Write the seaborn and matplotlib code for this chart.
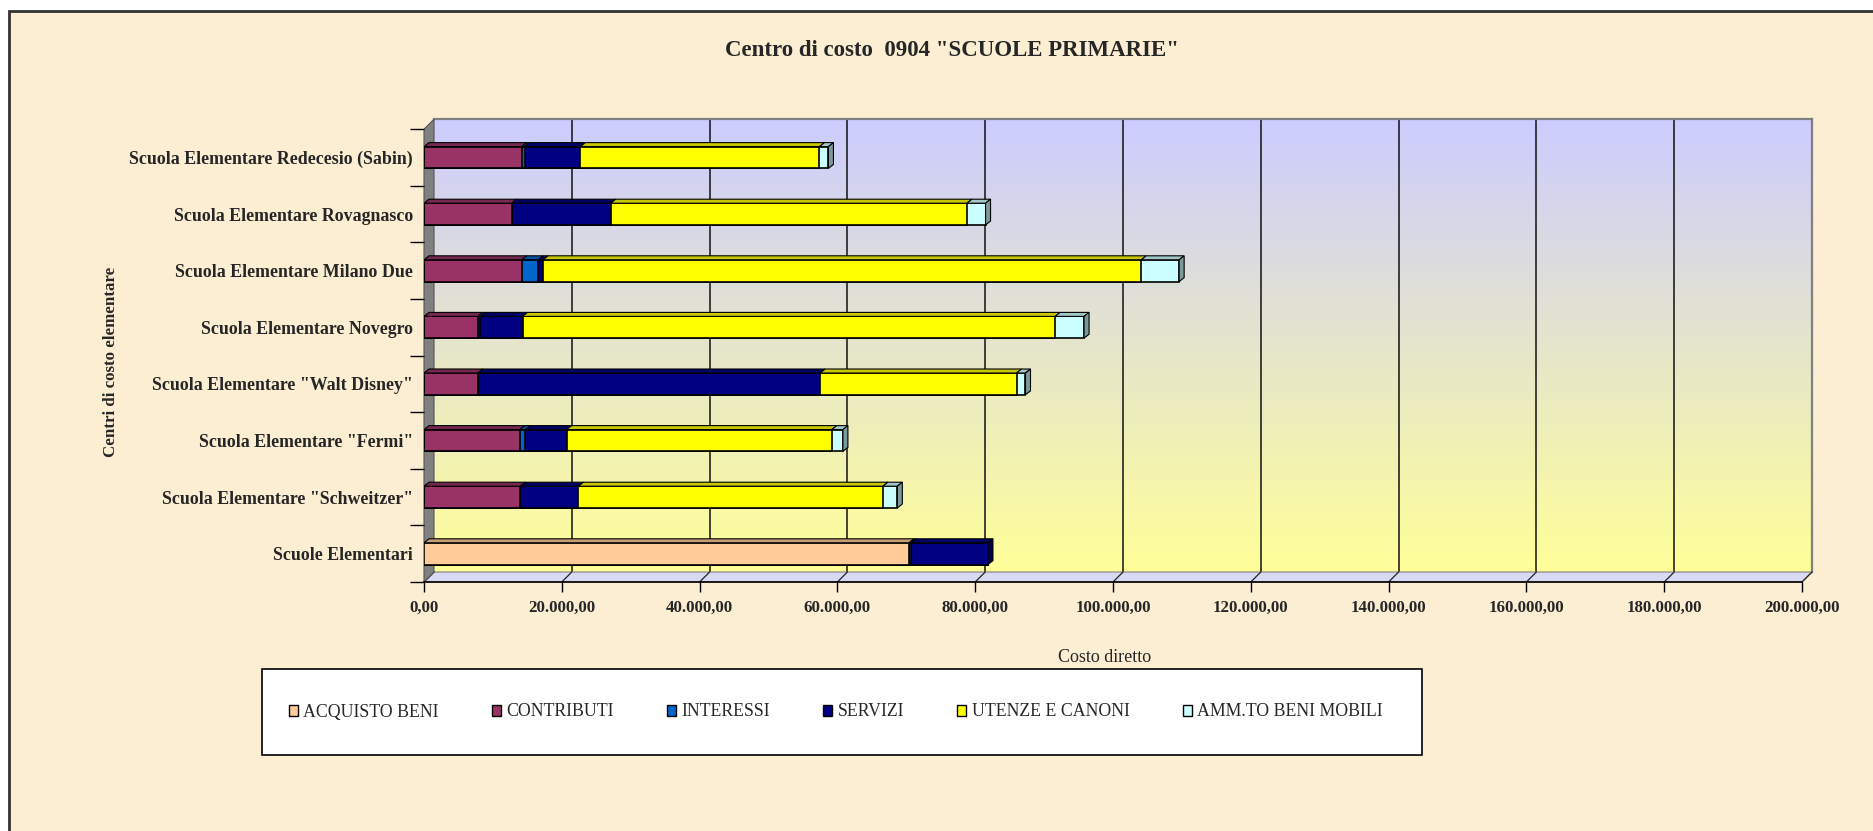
import numpy as np
import pandas as pd
import matplotlib
matplotlib.use("Agg")
import matplotlib.pyplot as plt
import matplotlib.patches as mpatches
from matplotlib.lines import Line2D
import matplotlib.colors as mcolors
import seaborn as sns

# ---------------- data ----------------
categories = [
    "Scuola Elementare Redecesio (Sabin)",
    "Scuola Elementare Rovagnasco",
    "Scuola Elementare Milano Due",
    "Scuola Elementare Novegro",
    'Scuola Elementare "Walt Disney"',
    'Scuola Elementare "Fermi"',
    'Scuola Elementare "Schweitzer"',
    "Scuole Elementari",
]
series_names = ["ACQUISTO BENI", "CONTRIBUTI", "INTERESSI", "SERVIZI",
                "UTENZE E CANONI", "AMM.TO BENI MOBILI"]
acquisto_beni = [0, 0, 0, 0, 0, 0, 0, 70400]
contributi    = [14200, 12700, 14200, 7800, 7800, 13900, 14000, 0]
interessi     = [400, 0, 2400, 400, 0, 800, 0, 300]
servizi       = [8100, 14400, 700, 6100, 49700, 6000, 8400, 11150]
utenze_canoni = [34700, 51700, 86800, 77300, 28500, 38500, 44200, 0]
amm_beni_mob  = [1300, 2700, 5500, 4200, 1300, 1600, 2100, 0]
series_values = [acquisto_beni, contributi, interessi, servizi, utenze_canoni, amm_beni_mob]
series_colors = ["#FFCC99", "#993366", "#0066CC", "#000080", "#FFFF00", "#CCFFFF"]

xticks = [0, 20000, 40000, 60000, 80000, 100000, 120000, 140000, 160000, 180000, 200000]
xtick_labels = ["0,00", "20.000,00", "40.000,00", "60.000,00", "80.000,00", "100.000,00",
                "120.000,00", "140.000,00", "160.000,00", "180.000,00", "200.000,00"]

title = 'Centro di costo  0904 "SCUOLE PRIMARIE"'
ylabel = "Centri di costo elementare"
xlabel = "Costo diretto"

# ---------------- layout (pixels) ----------------
W, H = 1874, 831
def fx(px): return px / W
def fy(py): return 1 - py / H

FL, FB = 424, 582          # front plane left / bottom
S = 56.6                   # category spacing
FW = 1378                  # width for 0..200000
FT = FB - S * len(categories)
FR = FL + FW
DX, DY = 10, 10            # depth of back wall

SERIF = "Liberation Serif"

sns.set_theme(style="white")
plt.rcParams["font.family"] = [SERIF, "DejaVu Serif"]

fig = plt.figure(figsize=(W / 100, H / 100), dpi=100, facecolor="white")

# parchment background with frame
bg = mpatches.Rectangle((fx(9), fy(H + 20)), 1.2, fy(11) - fy(H + 20),
                        transform=fig.transFigure, facecolor="#FCEED3",
                        edgecolor="#333333", linewidth=2, zorder=-10)
fig.add_artist(bg)

# back wall axes
ax_bg = fig.add_axes([fx(FL + DX), fy(FB - DY), FW / W, (FB - FT) / H])
ax_bg.set_zorder(-5)
grad = np.linspace(0, 1, 256).reshape(-1, 1)
cmap = mcolors.LinearSegmentedColormap.from_list("wall", ["#CCCCFF", "#FFFF99"])
ax_bg.imshow(grad, aspect="auto", cmap=cmap, extent=[0, 200000, 0, 1], origin="upper")
ax_bg.set_xlim(0, 200000)
ax_bg.set_ylim(0, 1)
ax_bg.set_xticks(xticks)
ax_bg.set_yticks([])
ax_bg.tick_params(axis="x", length=0, labelbottom=False)
for xv in xticks[1:-1]:
    ax_bg.axvline(xv, color="#111111", linewidth=1.1)
for side in ["left", "bottom"]:
    ax_bg.spines[side].set_visible(False)
for side in ["top", "right"]:
    ax_bg.spines[side].set_color("#808080")
    ax_bg.spines[side].set_linewidth(1.6)

# floor
floor = mpatches.Polygon([(fx(FL), fy(FB)), (fx(FL + DX), fy(FB - DY)),
                          (fx(FR + DX), fy(FB - DY)), (fx(FR), fy(FB))],
                         closed=True, transform=fig.transFigure, facecolor="#D9D9F4",
                         edgecolor="#808080", linewidth=0.8, zorder=-4)
fig.add_artist(floor)
for xv in xticks:
    px = FL + FW * xv / 200000
    fig.add_artist(Line2D([fx(px + DX), fx(px)], [fy(FB - DY), fy(FB)],
                          transform=fig.transFigure, color="#222222", linewidth=0.9, zorder=-3))
# left wall
wall = mpatches.Polygon([(fx(FL), fy(FB)), (fx(FL), fy(FT)), (fx(FL + DX), fy(FT - DY)),
                         (fx(FL + DX), fy(FB - DY))],
                        closed=True, transform=fig.transFigure, facecolor="#808080",
                        edgecolor="#555555", linewidth=0.8, zorder=-3)
fig.add_artist(wall)

# main bars axes
ax = fig.add_axes([fx(FL), fy(FB), FW / W, (FB - FT) / H])
ax.set_zorder(1)
ax.patch.set_alpha(0)

cum = np.cumsum(np.array(series_values, dtype=float), axis=0)
bar_h = 0.385
for k in range(len(series_names) - 1, -1, -1):
    df = pd.DataFrame({"cat": categories, "val": cum[k]})
    sns.barplot(data=df, x="val", y="cat", orient="h", color=series_colors[k],
                saturation=1, width=bar_h, edgecolor="black", linewidth=1.2,
                errorbar=None, ax=ax)

ax.set_xlim(0, 200000)
ax.set_ylim(len(categories) - 0.5, -0.5)

# 3D faces
ppx = FW / 200000
ddx = 5 / ppx
ddy = 4 / S
def darker(c, f):
    r, g, b = mcolors.to_rgb(c)
    return (r * f, g * f, b * f)
for i in range(len(categories)):
    left = 0.0
    last_k = None
    for k in range(len(series_names)):
        v = series_values[k][i]
        if v > 0:
            yt = i - bar_h / 2
            ax.fill([left, left + v, left + v + ddx, left + ddx],
                    [yt, yt, yt - ddy, yt - ddy],
                    facecolor=darker(series_colors[k], 0.78), edgecolor="black",
                    linewidth=0.8, zorder=3)
            last_k = k
        left += v
    if last_k is not None:
        yt, yb = i - bar_h / 2, i + bar_h / 2
        ax.fill([left, left + ddx, left + ddx, left],
                [yb, yb - ddy, yt - ddy, yt],
                facecolor=darker(series_colors[last_k], 0.6), edgecolor="black",
                linewidth=0.8, zorder=3)

# axes styling
for side in ["left", "right", "top"]:
    ax.spines[side].set_visible(False)
ax.spines["bottom"].set_color("black")
ax.spines["bottom"].set_linewidth(1.2)
ax.set_xticks(xticks)
ax.set_xticklabels(xtick_labels, fontsize=12.2, fontweight="bold", family=SERIF)
ax.tick_params(axis="x", direction="out", length=7, width=1, color="black", pad=6,
               bottom=True)
ax.set_yticks(range(len(categories)))
ax.set_yticklabels(categories, fontsize=12.9, fontweight="bold", family=SERIF)
ax.tick_params(axis="y", which="major", length=0, pad=8, left=True)
ax.set_yticks(np.arange(-0.5, len(categories), 1.0), minor=True)
ax.tick_params(axis="y", which="minor", direction="out", length=10, width=1,
               color="black", left=True)
ax.set_xlabel("")
ax.set_ylabel("")
ax.grid(False)

# texts
fig.text(fx(952), fy(50), title, ha="center", va="center", fontsize=16.5,
         fontweight="bold", family=SERIF)
fig.text(fx(111), fy(362), ylabel, ha="center", va="center", rotation=90,
         fontsize=12.2, fontweight="bold", family=SERIF)
fig.text(fx(1105), fy(658), xlabel, ha="center", va="center", fontsize=13, family=SERIF)

# legend
box = mpatches.Rectangle((fx(262), fy(755)), fx(1422) - fx(262), fy(669) - fy(755),
                         transform=fig.transFigure, facecolor="white",
                         edgecolor="black", linewidth=1.2, zorder=4)
fig.add_artist(box)
handles = [mpatches.Patch(facecolor=c, edgecolor="black", linewidth=1.0)
           for c in series_colors]
leg = fig.legend(handles, series_names, loc="center left",
                 bbox_to_anchor=(fx(289), fy(712)), ncol=6, frameon=False,
                 borderaxespad=0, borderpad=0, columnspacing=3.0,
                 handlelength=0.5, handleheight=0.6, handletextpad=0.3,
                 prop={"family": SERIF, "size": 12.8})
leg.set_zorder(5)

fig.savefig("out.png", dpi=100, facecolor="white")
